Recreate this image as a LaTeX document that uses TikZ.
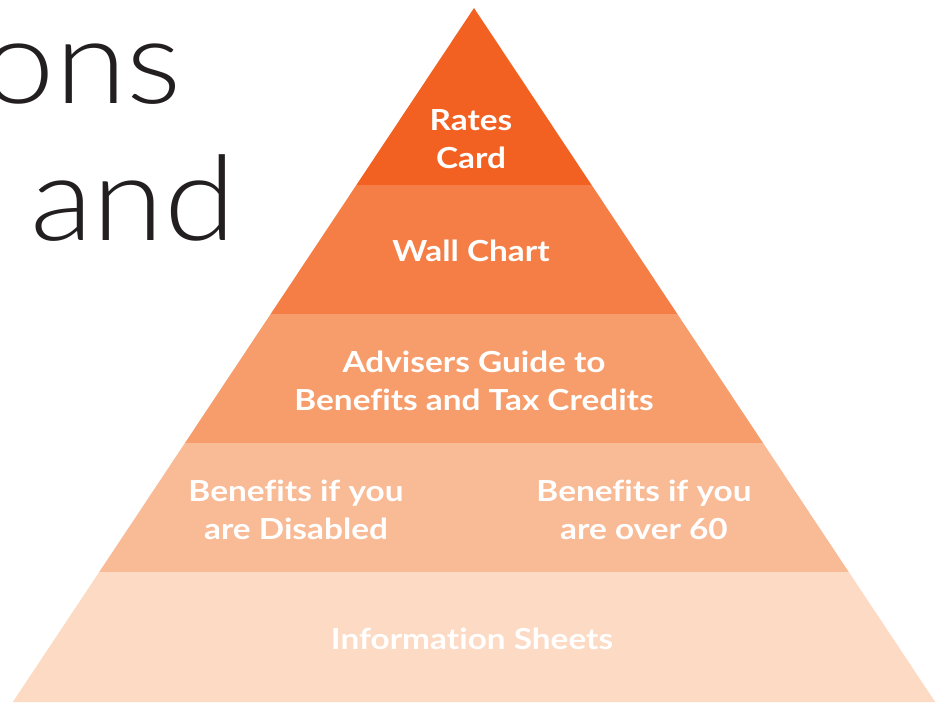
\documentclass[tikz,border=0pt]{standalone}
\usepackage{fontspec}
\setmainfont{Lato}
\newfontfamily\tierfont{Lato}[FakeStretch=1.15, Ligatures=NoCommon]
\newfontfamily\lightfont{Lato Light}[FakeStretch=1.1]
\usetikzlibrary{calc}

\definecolor{tierA}{HTML}{F26122}
\definecolor{tierB}{HTML}{F47E45}
\definecolor{tierC}{HTML}{F79D6B}
\definecolor{tierD}{HTML}{F9BA96}
\definecolor{tierE}{HTML}{FDDAC4}
\definecolor{ink}{HTML}{231F20}

\tikzset{
  tierlabel/.style={font=\tierfont\bfseries\fontsize{29}{38}\selectfont, text=white, align=center, inner sep=0pt},
  bigword/.style={font=\lightfont\fontsize{118}{118}\selectfont, text=ink, inner sep=0pt, anchor=base east}
}

\begin{document}
\begin{tikzpicture}[x=1pt,y=-1pt]
  \useasboundingbox (0,0) rectangle (944,702);

  % pyramid, one band at a time
  \foreach \ya/\yb/\col in {8/185/tierA, 185/314/tierB, 314/443/tierC, 443/572/tierD, 572/702/tierE}
    \fill[\col] ({474-(\ya-8)*0.6645},\ya) -- ({474+(\ya-8)*0.6645},\ya)
      -- ({474+(\yb-8)*0.6645},\yb) -- ({474-(\yb-8)*0.6645},\yb) -- cycle;

  \node[tierlabel] (rates) at (471,139) {Rates\\Card};
  \node[tierlabel] (wall) at (471,251) {Wall Chart};
  \node[tierlabel] (guide) at (474,381) {Advisers Guide to\\Benefits and Tax Credits};
  \node[tierlabel] (disabled) at (296,510) {Benefits if you\\are Disabled};
  \node[tierlabel] (over) at (644,510) {Benefits if you\\are over 60};
  \node[tierlabel] (sheets) at (472,639) {Information Sheets};

  % heading words running off the left edge
  \node[bigword] (ons) at (182,103) {ons};
  \node[bigword] (and) at (236,240) {and};
\end{tikzpicture}
\end{document}
